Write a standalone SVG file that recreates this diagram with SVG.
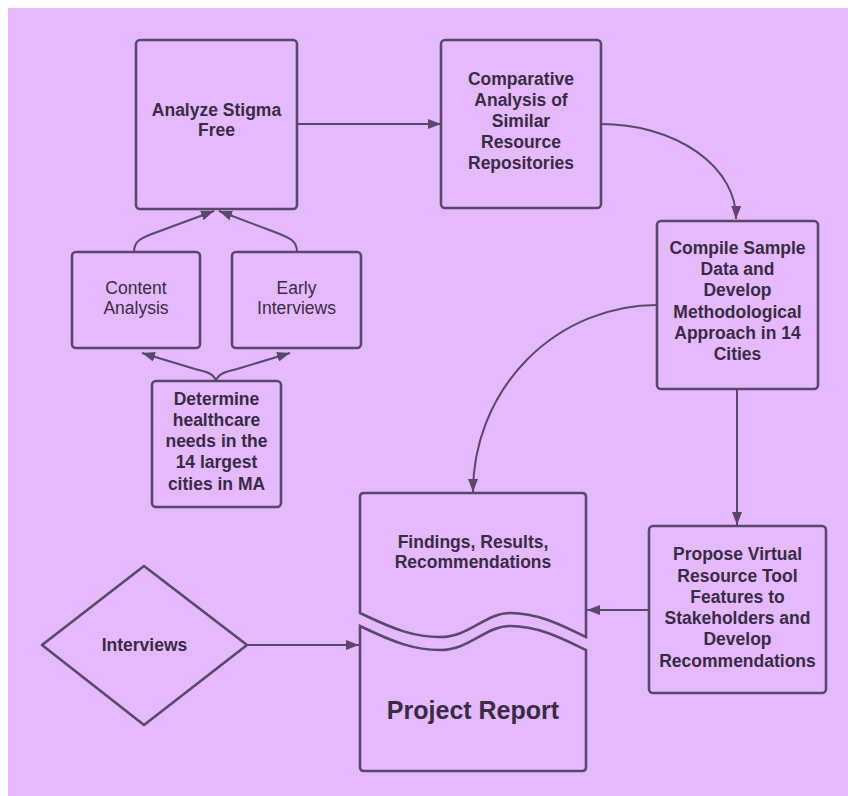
<svg xmlns="http://www.w3.org/2000/svg" width="848" height="796" viewBox="0 0 848 796">
  <defs>
    <style>
      .box { fill: #e5b9fd; stroke: #58496a; stroke-width: 2.6; }
      .edge { fill: none; stroke: #58496a; stroke-width: 2; }
      .t { font-family: "Liberation Sans", Arial, sans-serif; font-size: 17.5px; fill: #382c44; text-anchor: middle; }
      .b { font-weight: bold; }
      .title { font-size: 25px; }
    </style>
    <marker id="arrow" viewBox="0 0 13 10" refX="13" refY="5" markerWidth="13" markerHeight="10" markerUnits="userSpaceOnUse" orient="auto">
      <path d="M0,0 L13,5 L0,10 z" fill="#58496a"/>
    </marker>
  </defs>

  <rect x="0" y="0" width="848" height="796" fill="#ffffff"/>
  <rect x="8" y="8" width="840" height="788" fill="#e5b9fd"/>

  <g id="connectors">
    <path class="edge" d="M297,124 L441,124" marker-end="url(#arrow)"/>
    <path class="edge" d="M601,124 A135,94 0 0 1 736,219" marker-end="url(#arrow)"/>
    <path class="edge" d="M657,305 A184,187 0 0 0 473,492" marker-end="url(#arrow)"/>
    <path class="edge" d="M737,389 L737,525" marker-end="url(#arrow)"/>
    <path class="edge" d="M649,610 L587,610" marker-end="url(#arrow)"/>
    <path class="edge" d="M247,645 L359,645" marker-end="url(#arrow)"/>
    <path class="edge" d="M134,252 C134,241 140,238 160,231 L214,211" marker-end="url(#arrow)"/>
    <path class="edge" d="M297,252 C297,241 291,238 272,231 L219,211" marker-end="url(#arrow)"/>
    <path class="edge" d="M216,381 C214,374 208,372 195,369 L142,353" marker-end="url(#arrow)"/>
    <path class="edge" d="M216,381 C218,374 224,372 237,369 L290,353" marker-end="url(#arrow)"/>
  </g>

  <g id="analyze">
    <rect class="box" x="136" y="40" width="161" height="169" rx="4"/>
    <text class="t b" x="216.5" y="116">Analyze Stigma</text>
    <text class="t b" x="216.5" y="136">Free</text>
  </g>

  <g id="comparative">
    <rect class="box" x="441" y="40" width="160" height="168" rx="4"/>
    <text class="t b" x="521" y="85">Comparative</text>
    <text class="t b" x="521" y="106">Analysis of</text>
    <text class="t b" x="521" y="127">Similar</text>
    <text class="t b" x="521" y="148">Resource</text>
    <text class="t b" x="521" y="169">Repositories</text>
  </g>

  <g id="compile">
    <rect class="box" x="657" y="221" width="161" height="168" rx="4"/>
    <text class="t b" x="737.5" y="254">Compile Sample</text>
    <text class="t b" x="737.5" y="275">Data and</text>
    <text class="t b" x="737.5" y="296">Develop</text>
    <text class="t b" x="737.5" y="318">Methodological</text>
    <text class="t b" x="737.5" y="339">Approach in 14</text>
    <text class="t b" x="737.5" y="360">Cities</text>
  </g>

  <g id="propose">
    <rect class="box" x="649" y="526" width="177" height="167" rx="4"/>
    <text class="t b" x="737.5" y="560">Propose Virtual</text>
    <text class="t b" x="737.5" y="582">Resource Tool</text>
    <text class="t b" x="737.5" y="603">Features to</text>
    <text class="t b" x="737.5" y="624">Stakeholders and</text>
    <text class="t b" x="737.5" y="645">Develop</text>
    <text class="t b" x="737.5" y="667">Recommendations</text>
  </g>

  <g id="content-analysis">
    <rect class="box" x="72" y="252" width="128" height="96" rx="4"/>
    <text class="t" x="136" y="294">Content</text>
    <text class="t" x="136" y="314">Analysis</text>
  </g>

  <g id="early-interviews">
    <rect class="box" x="232" y="252" width="129" height="96" rx="4"/>
    <text class="t" x="296.5" y="294">Early</text>
    <text class="t" x="296.5" y="314">Interviews</text>
  </g>

  <g id="determine">
    <rect class="box" x="152" y="381" width="129" height="126" rx="4"/>
    <text class="t b" x="216.5" y="405">Determine</text>
    <text class="t b" x="216.5" y="426">healthcare</text>
    <text class="t b" x="216.5" y="447">needs in the</text>
    <text class="t b" x="216.5" y="468">14 largest</text>
    <text class="t b" x="216.5" y="490">cities in MA</text>
  </g>

  <g id="interviews">
    <path class="box" d="M144,566 L247,645 L144,725 L42,645 Z" stroke-linejoin="round"/>
    <text class="t b" x="144.5" y="651">Interviews</text>
  </g>

  <g id="project-report">
    <path class="box" d="M360,613 L360,497 Q360,493 364,493 L582,493 Q586,493 586,497 L586,637 C565,627 540,613 510,613 C485,613 470,637 440,637 C415,637 395,630 360,613 Z"/>
    <path class="box" d="M360,626 C395,643 415,650 440,650 C470,650 485,626 510,626 C540,626 565,640 586,650 L586,767 Q586,771 582,771 L364,771 Q360,771 360,767 Z"/>
    <text class="t b" x="473" y="548">Findings, Results,</text>
    <text class="t b" x="473" y="568">Recommendations</text>
    <text class="t b title" x="473" y="719">Project Report</text>
  </g>
</svg>
